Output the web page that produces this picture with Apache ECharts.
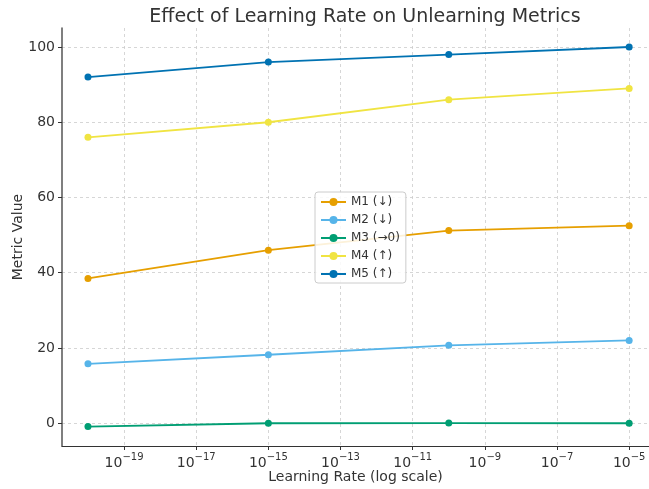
<!DOCTYPE html>
<html><head><meta charset="utf-8">
<script src="https://cdn.jsdelivr.net/npm/echarts@6/dist/echarts.min.js"></script>
<style>html,body{margin:0;padding:0;background:#fff}#c{width:649px;height:489px}</style>
</head><body><div id="c"></div>
<script>
const learningRates = [1e-20, 1e-15, 1e-10, 1e-5];
const seriesNames = ['M1 (↓)', 'M2 (↓)', 'M3 (→0)', 'M4 (↑)', 'M5 (↑)'];
const m1 = [38.5, 46.0, 51.2, 52.5];
const m2 = [15.8, 18.2, 20.7, 22.0];
const m3 = [-0.9, 0.0, 0.05, 0.0];
const m4 = [76.0, 80.0, 86.0, 89.0];
const m5 = [92.0, 96.0, 98.0, 100.0];
const xTickExponents = [-19, -17, -15, -13, -11, -9, -7, -5];
const yTicks = [0, 20, 40, 60, 80, 100];
const colors = ['#E69F00', '#56B4E9', '#009E73', '#F0E442', '#0072B2'];
const allSeries = [m1, m2, m3, m4, m5];

const font = 'DejaVu Sans';
const chart = echarts.init(document.getElementById('c'), null, {renderer: 'canvas'});
chart.setOption({
  animation: false,
  backgroundColor: '#fff',
  title: {
    text: 'Effect of Learning Rate on Unlearning Metrics',
    left: 360, top: 3, textAlign: 'center',
    textStyle: {fontFamily: font, fontSize: 19, fontWeight: 'normal', color: '#333'}
  },
  legend: {
    orient: 'vertical', left: 315, top: 192,
    padding: [4, 6, 3, 5], itemGap: 6, itemWidth: 25, itemHeight: 10,
    backgroundColor: 'rgba(255,255,255,0.85)', borderColor: '#ccc', borderWidth: 1, borderRadius: 3,
    textStyle: {fontFamily: font, fontSize: 12, color: '#333'},
    data: seriesNames
  },
  grid: {left: 62, right: 0, top: 28, bottom: 43, containLabel: false, outerBoundsMode: 'none'},
  xAxis: {
    type: 'value', min: -20.72, max: -4.45,
    name: 'Learning Rate (log scale)', nameLocation: 'middle', nameGap: 24, nameMoveOverlap: false,
    nameTextStyle: {fontFamily: font, fontSize: 14, color: '#333'},
    axisLine: {show: true, onZero: false, lineStyle: {color: '#333', width: 1.2}},
    axisTick: {show: true, length: 4, customValues: xTickExponents, lineStyle: {color: '#333'}},
    axisLabel: {
      customValues: xTickExponents, margin: 6,
      formatter: v => '{b|10}{s|−' + Math.abs(Math.round(v)) + '}',
      rich: {
        b: {fontFamily: font, fontSize: 14, color: '#333', verticalAlign: 'bottom'},
        s: {fontFamily: font, fontSize: 10, color: '#333', verticalAlign: 'top', padding: [0, 0, 8, 0]}
      }
    },
    splitLine: {show: true, lineStyle: {color: '#ccc', type: [3, 3], width: 0.8}}
  },
  yAxis: {
    type: 'value', min: -6.05, max: 105.05,
    name: 'Metric Value', nameLocation: 'middle', nameGap: 37, nameMoveOverlap: false,
    nameTextStyle: {fontFamily: font, fontSize: 14, color: '#333'},
    axisLine: {show: true, onZero: false, lineStyle: {color: '#555', width: 1.5}},
    axisTick: {show: true, length: 4, customValues: yTicks, lineStyle: {color: '#333'}},
    axisLabel: {customValues: yTicks, fontFamily: font, fontSize: 14, color: '#333', margin: 7},
    splitLine: {show: true, lineStyle: {color: '#ccc', type: [3, 3], width: 0.8}}
  },
  series: allSeries.map((vals, i) => ({
    name: seriesNames[i], type: 'line',
    data: vals.map((v, j) => [Math.log10(learningRates[j]), v]),
    color: colors[i],
    symbol: 'circle', symbolSize: 7,
    lineStyle: {width: 1.8, color: colors[i]},
    itemStyle: {color: colors[i]}
  }))
});
</script></body></html>
